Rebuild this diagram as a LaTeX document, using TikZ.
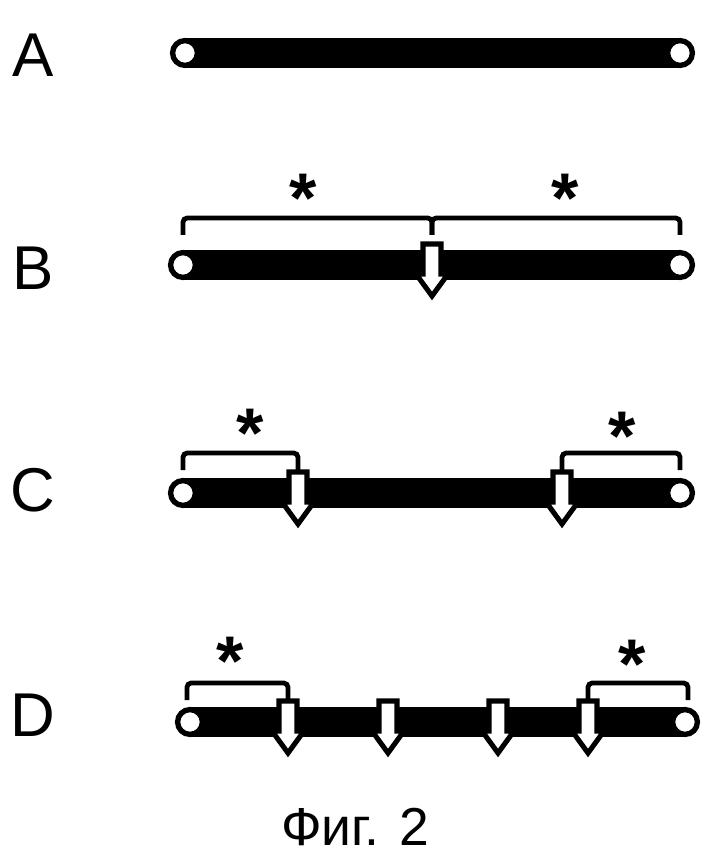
\documentclass[tikz,border=0pt]{standalone}
\usepackage{fontspec}
\setmainfont{Liberation Sans}
\usepackage{tikz}
\tikzset{
    rowlabel/.style={font=\fontsize{44}{44}\selectfont, inner sep=0pt},
    starlabel/.style={font=\bfseries\fontsize{50}{50}\selectfont, inner sep=0pt},
    endring/.style={circle, draw=black, fill=white, line width=3.8pt, minimum size=0.62cm, inner sep=0pt},
    dnabar/.style={line width=21pt, black},
}
\newcommand{\cutArrow}[2]{%
    \draw[black, line width=3.6pt, fill=white, line join=miter] (#1-9,#2-21) -- (#1+9,#2-21) -- (#1+9,#2+9) -- (#1+16,#2+9) -- (#1,#2+31) -- (#1-16,#2+9) -- (#1-9,#2+9) -- cycle;
}
\newcommand{\fragBracket}[3]{%
    \draw[black, line width=3.4pt, rounded corners=3pt] (#1,#3+17) -- (#1,#3) -- (#2,#3) -- (#2,#3+17);
}
\begin{document}
\begin{tikzpicture}[x=0.025cm, y=-0.025cm]
    \useasboundingbox (0,0) rectangle (712,859);

    % row labels
    \node[rowlabel] (labA) at (33,55) {A};
    \node[rowlabel] (labB) at (33,268) {B};
    \node[rowlabel] (labC) at (33,490) {C};
    \node[rowlabel] (labD) at (33,715) {D};

    % A
    \draw[dnabar] (185,53) -- (680,53);
    \node[endring] (aL) at (185,53) {};
    \node[endring] (aR) at (680,53) {};

    % B
    \draw[dnabar] (183,265) -- (680,265);
    \node[endring] (bL) at (183,265) {};
    \node[endring] (bR) at (680,265) {};
    \fragBracket{183}{432}{218}
    \fragBracket{432}{680}{218}
    \cutArrow{432}{265}
    \node[starlabel] (starB1) at (303,198) {*};
    \node[starlabel] (starB2) at (565,198) {*};

    % C
    \draw[dnabar] (183,493) -- (680,493);
    \node[endring] (cL) at (183,493) {};
    \node[endring] (cR) at (680,493) {};
    \fragBracket{183}{298}{453}
    \fragBracket{562}{680}{453}
    \foreach \x in {298, 562} {
        \cutArrow{\x}{493}
    }
    \node[starlabel] (starC1) at (250,433) {*};
    \node[starlabel] (starC2) at (622,436) {*};

    % D
    \draw[dnabar] (190,722) -- (685,722);
    \node[endring] (dL) at (190,722) {};
    \node[endring] (dR) at (685,722) {};
    \fragBracket{187}{288}{683}
    \fragBracket{588}{688}{683}
    \foreach \x in {288, 388, 498, 588} {
        \cutArrow{\x}{722}
    }
    \node[starlabel] (starD1) at (230,661) {*};
    \node[starlabel] (starD2) at (632,664) {*};

    % caption
    \node[font=\fontsize{38}{38}\selectfont] (caption) at (355,827) {Фиг. 2};
\end{tikzpicture}
\end{document}
